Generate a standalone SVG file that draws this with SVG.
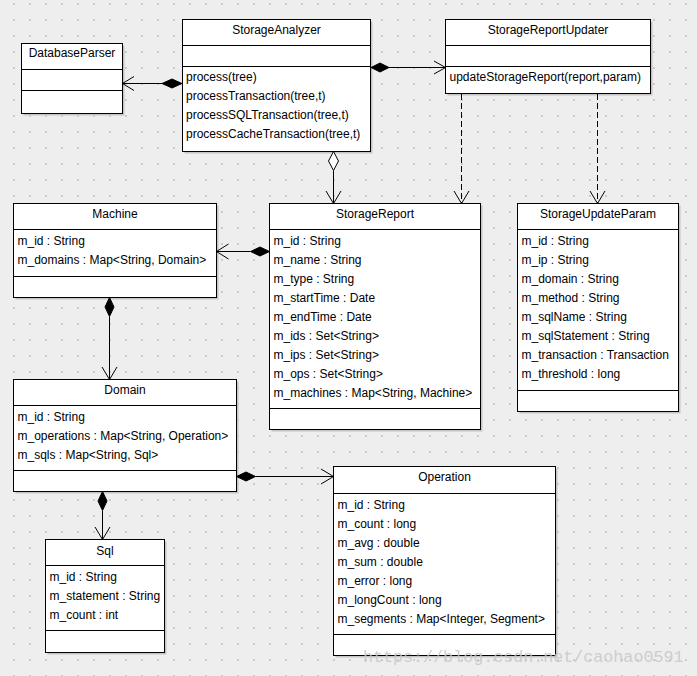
<svg xmlns="http://www.w3.org/2000/svg" width="697" height="676" viewBox="0 0 697 676">
<style>
.box{fill:#ffffff;stroke:#000000;stroke-width:1}
.sh{fill:#c4c4c4}
.div{stroke:#000000;stroke-width:1;fill:none}
.t{font-family:"Liberation Sans",Arial,sans-serif;font-size:12px;fill:#000000}
.c{text-anchor:middle}
.ln{stroke:#000000;stroke-width:1;fill:none}
.dash{stroke:#000000;stroke-width:1;fill:none;stroke-dasharray:6,3}
.fd{fill:#000000;stroke:#000000;stroke-width:1}
.hd{fill:#ffffff;stroke:#000000;stroke-width:1}
.wm{font-family:"Liberation Mono","Courier New",monospace;font-size:16.7px;fill:#c8c8c8;opacity:0.85}
</style>
<defs>
<pattern id="dots" patternUnits="userSpaceOnUse" x="0" y="0" width="16" height="16">
<rect x="13" y="3" width="2" height="2" fill="#cbcbcb"/>
</pattern>
</defs>
<rect x="0" y="0" width="697" height="676" fill="#eeeeee"/>
<rect x="0" y="0" width="697" height="676" fill="url(#dots)"/>

<g id="DatabaseParser">
<rect class="sh" x="23.5" y="45.5" width="101" height="70"/>
<rect class="box" x="21.5" y="43.5" width="101" height="70"/>
<path class="div" d="M21.5 69.5H122.5M21.5 90.5H122.5"/>
<text class="t c" x="72" y="57">DatabaseParser</text>
</g>

<g id="StorageAnalyzer">
<rect class="sh" x="184.5" y="21.5" width="188" height="132"/>
<rect class="box" x="182.5" y="19.5" width="188" height="132"/>
<path class="div" d="M182.5 45.5H370.5M182.5 66.5H370.5"/>
<text class="t c" x="276.5" y="33.5">StorageAnalyzer</text>
<text class="t" x="186" y="81">process(tree)</text>
<text class="t" x="186" y="100">processTransaction(tree,t)</text>
<text class="t" x="186" y="119">processSQLTransaction(tree,t)</text>
<text class="t" x="186" y="138">processCacheTransaction(tree,t)</text>
</g>

<g id="StorageReportUpdater">
<rect class="sh" x="447.5" y="21.5" width="205" height="74"/>
<rect class="box" x="445.5" y="19.5" width="205" height="74"/>
<path class="div" d="M445.5 45.5H650.5M445.5 66.5H650.5"/>
<text class="t c" x="548" y="33.5">StorageReportUpdater</text>
<text class="t" x="449.5" y="81">updateStorageReport(report,param)</text>
</g>

<g id="Machine">
<rect class="sh" x="15.5" y="205.5" width="203" height="94"/>
<rect class="box" x="13.5" y="203.5" width="203" height="94"/>
<path class="div" d="M13.5 229.5H216.5M13.5 276.5H216.5"/>
<text class="t c" x="115" y="217.5">Machine</text>
<text class="t" x="17.5" y="244.5">m_id : String</text>
<text class="t" x="17.5" y="263.5">m_domains : Map&lt;String, Domain&gt;</text>
</g>

<g id="StorageReport">
<rect class="sh" x="271.5" y="205.5" width="211" height="226"/>
<rect class="box" x="269.5" y="203.5" width="211" height="226"/>
<path class="div" d="M269.5 229.5H480.5M269.5 408.5H480.5"/>
<text class="t c" x="375" y="217.5">StorageReport</text>
<text class="t" x="273.5" y="244.5">m_id : String</text>
<text class="t" x="273.5" y="263.5">m_name : String</text>
<text class="t" x="273.5" y="282.5">m_type : String</text>
<text class="t" x="273.5" y="301.5">m_startTime : Date</text>
<text class="t" x="273.5" y="320.5">m_endTime : Date</text>
<text class="t" x="273.5" y="339.5">m_ids : Set&lt;String&gt;</text>
<text class="t" x="273.5" y="358.5">m_ips : Set&lt;String&gt;</text>
<text class="t" x="273.5" y="377.5">m_ops : Set&lt;String&gt;</text>
<text class="t" x="273.5" y="396.5">m_machines : Map&lt;String, Machine&gt;</text>
</g>

<g id="StorageUpdateParam">
<rect class="sh" x="519.5" y="205.5" width="161" height="208"/>
<rect class="box" x="517.5" y="203.5" width="161" height="208"/>
<path class="div" d="M517.5 229.5H678.5M517.5 390.5H678.5"/>
<text class="t c" x="598" y="217.5">StorageUpdateParam</text>
<text class="t" x="521.5" y="244.5">m_id : String</text>
<text class="t" x="521.5" y="263.5">m_ip : String</text>
<text class="t" x="521.5" y="282.5">m_domain : String</text>
<text class="t" x="521.5" y="301.5">m_method : String</text>
<text class="t" x="521.5" y="320.5">m_sqlName : String</text>
<text class="t" x="521.5" y="339.5">m_sqlStatement : String</text>
<text class="t" x="521.5" y="358.5">m_transaction : Transaction</text>
<text class="t" x="521.5" y="377.5">m_threshold : long</text>
</g>

<g id="Domain">
<rect class="sh" x="15.5" y="381.5" width="223" height="112"/>
<rect class="box" x="13.5" y="379.5" width="223" height="112"/>
<path class="div" d="M13.5 405.5H236.5M13.5 470.5H236.5"/>
<text class="t c" x="125" y="393.5">Domain</text>
<text class="t" x="17.5" y="420.5">m_id : String</text>
<text class="t" x="17.5" y="439.5">m_operations : Map&lt;String, Operation&gt;</text>
<text class="t" x="17.5" y="458.5">m_sqls : Map&lt;String, Sql&gt;</text>
</g>

<g id="Operation">
<rect class="sh" x="335.5" y="468.5" width="222" height="189"/>
<rect class="box" x="333.5" y="466.5" width="222" height="189"/>
<path class="div" d="M333.5 493.5H555.5M333.5 634.5H555.5"/>
<text class="t c" x="444.5" y="481">Operation</text>
<text class="t" x="337.5" y="509">m_id : String</text>
<text class="t" x="337.5" y="528">m_count : long</text>
<text class="t" x="337.5" y="547">m_avg : double</text>
<text class="t" x="337.5" y="566">m_sum : double</text>
<text class="t" x="337.5" y="585">m_error : long</text>
<text class="t" x="337.5" y="604">m_longCount : long</text>
<text class="t" x="337.5" y="623">m_segments : Map&lt;Integer, Segment&gt;</text>
</g>

<g id="Sql">
<rect class="sh" x="47.5" y="541.5" width="119" height="113"/>
<rect class="box" x="45.5" y="539.5" width="119" height="113"/>
<path class="div" d="M45.5 565.5H164.5M45.5 630.5H164.5"/>
<text class="t c" x="105" y="554.5">Sql</text>
<text class="t" x="49.5" y="580.5">m_id : String</text>
<text class="t" x="49.5" y="599.5">m_statement : String</text>
<text class="t" x="49.5" y="618.5">m_count : int</text>
</g>

<g id="connectors">
<path class="ln" d="M162 83.5H122.5M134 76.5L122.5 83.5L134 90.5"/>
<polygon class="fd" points="182,83.5 172,79 162,83.5 172,88"/>

<path class="ln" d="M389 67.5H445.5M434 61L445.5 67.5L434 74"/>
<polygon class="fd" points="371,67.5 380,63 389,67.5 380,72"/>

<path class="ln" d="M333.5 170.5V203.5M326 191L333.5 203.5L341 191"/>
<polygon class="hd" points="333.5,151.5 338.5,161 333.5,170.5 328.5,161"/>

<path class="dash" d="M461.5 94V203"/>
<path class="ln" d="M454 191L461.5 203.5L469 191"/>
<path class="dash" d="M597.5 94V203"/>
<path class="ln" d="M590 191L597.5 203.5L605 191"/>

<path class="ln" d="M250.5 251.5H216.5M228.5 244L216.5 251.5L228.5 259"/>
<polygon class="fd" points="269.5,251.5 260,247 250.5,251.5 260,256"/>

<path class="ln" d="M109.5 316.5V379.5M102 367L109.5 379.5L117 367"/>
<polygon class="fd" points="109.5,297.5 114,307 109.5,316.5 105,307"/>

<path class="ln" d="M255.5 476.5H333.5M321 469L333.5 476.5L321 484"/>
<polygon class="fd" points="236.5,476.5 246,472 255.5,476.5 246,481"/>

<path class="ln" d="M102.5 510.5V539.5M95 527L102.5 539.5L110 527"/>
<polygon class="fd" points="102.5,491.5 107,501 102.5,510.5 98,501"/>
</g>

<text class="wm" x="363" y="662">https://blog.csdn.net/caohao0591</text>
</svg>
